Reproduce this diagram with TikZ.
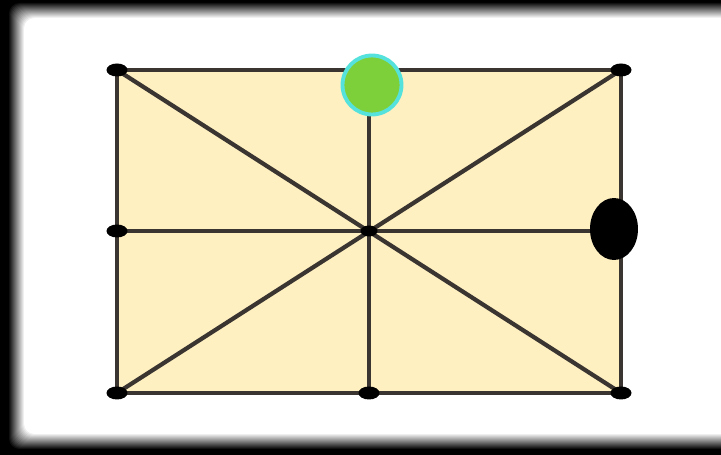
\documentclass[tikz,border=0pt]{standalone}
\usepackage{xcolor}
\usepackage{tikz}
\usetikzlibrary{shapes.geometric}

\definecolor{paneyellow}{HTML}{FFF0C2}
\definecolor{edgegray}{HTML}{3A3530}
\definecolor{ballgreen}{HTML}{7ED03A}
\definecolor{ballcyan}{HTML}{55E2DC}

\tikzset{
  grid line/.style={draw=edgegray,line width=2.4pt},
  joint/.style={ellipse,fill=black,inner sep=0pt,minimum width=0.42cm,minimum height=0.26cm},
}

\begin{document}
\begin{tikzpicture}[x=0.02cm,y=-0.02cm]
  \useasboundingbox (0,0) rectangle (721,455);
  \clip (0,0) rectangle (721,455);
  % blurred frame
  \fill[black] (0,0) rectangle (721,455);
  \foreach \d in {16,15,...,0}{
    \pgfmathsetmacro{\shade}{100*\d/16}
    \fill[black!\shade!white,rounded corners=6] (24-\d,18-\d) rectangle (731+\d,434+\d);
  }

  % pane
  \coordinate (tl) at (117,70);
  \coordinate (tm) at (369,70);
  \coordinate (tr) at (621,70);
  \coordinate (ml) at (117,231);
  \coordinate (mm) at (369,231);
  \coordinate (mr) at (621,231);
  \coordinate (bl) at (117,393);
  \coordinate (bm) at (369,393);
  \coordinate (br) at (621,393);
  \fill[paneyellow] (tl) rectangle (br);
  \draw[grid line] (tl) -- (tr) -- (br) -- (bl) -- cycle;
  \draw[grid line] (tl) -- (br);
  \draw[grid line] (tr) -- (bl);
  \draw[grid line] (tm) -- (bm);
  \draw[grid line] (ml) -- (mr);

  % joints
  \foreach \p in {tl,tr,ml,bl,bm,br}
    \node[joint] (j\p) at (\p) {};
  \node[joint,minimum width=0.34cm,minimum height=0.22cm] (jmm) at (mm) {};

  % markers
  \node[circle,fill=ballgreen,draw=ballcyan,line width=2.2pt,minimum size=1.18cm,inner sep=0pt] (green) at (372,85) {};
  \node[ellipse,fill=black,minimum width=0.96cm,minimum height=1.24cm,inner sep=0pt] (stop) at (614,229) {};
\end{tikzpicture}
\end{document}
